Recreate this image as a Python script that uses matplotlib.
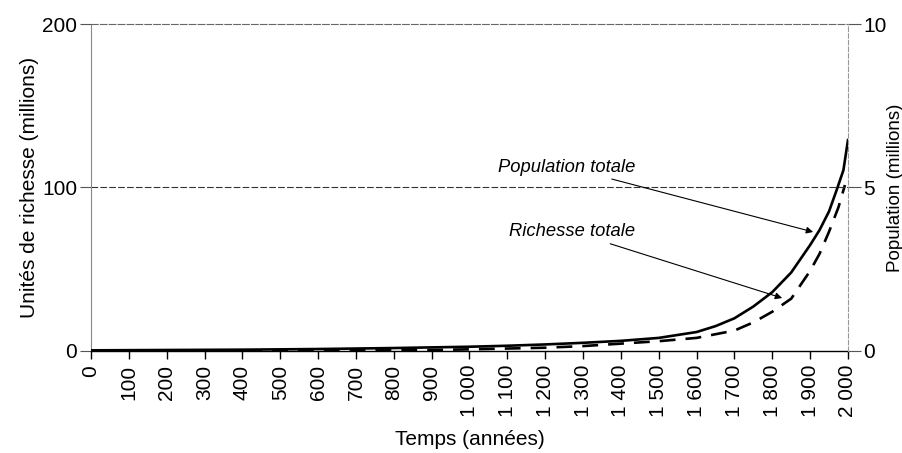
import matplotlib
matplotlib.use("Agg")
from matplotlib import pyplot as plt

plt.rcParams["font.family"] = ["Liberation Sans", "DejaVu Sans"]

# population totale (millions, axe de droite)
pop_years = [0, 200, 400, 600, 800, 1000, 1100, 1200, 1300, 1400, 1500, 1600,
             1650, 1700, 1750, 1800, 1850, 1900, 1925, 1950, 1970, 1988, 2000]
pop_values = [0.02, 0.03, 0.04, 0.06, 0.09, 0.13, 0.16, 0.2, 0.25, 0.31, 0.4,
              0.58, 0.76, 1.0, 1.36, 1.8, 2.4, 3.24, 3.7, 4.27, 4.92, 5.53, 6.45]

# richesse totale (millions d'unites, axe de gauche)
wealth_years = [0, 500, 900, 1000, 1100, 1200, 1300, 1400, 1500, 1600, 1700,
                1750, 1800, 1850, 1900, 1925, 1950, 1975, 1992]
wealth_values = [0, 0.2, 0.6, 1, 1.5, 2, 3, 4.5, 6, 8, 12.5, 17.5, 24, 32,
                 49, 59.5, 73, 88, 101.5]

x_ticks = list(range(0, 2001, 100))
x_labels = ["{:,}".format(t).replace(",", " ") for t in x_ticks]
left_ticks = [0, 100, 200]
right_ticks = [0, 5, 10]

fig = plt.figure(figsize=(9.02, 4.53), dpi=100)
ax = fig.add_axes([0.1009, 0.2252, 0.8392, 0.7218])
ax2 = ax.twinx()

ax.plot(wealth_years, wealth_values, color="black", lw=1.9,
        linestyle=(0, (6, 3.8)))
ax2.plot(pop_years, pop_values, color="black", lw=1.9)

ax.set_xlim(0, 2000)
ax.set_ylim(0, 200)
ax2.set_ylim(0, 10)

ax.axhline(100, color="#333333", lw=0.8, linestyle=(0, (6, 2)))
ax.spines["top"].set_color("#666666")
ax.spines["top"].set_linestyle((0, (6, 2)))
ax.spines["top"].set_linewidth(0.8)
ax2.spines["top"].set_visible(False)
ax.spines["left"].set_color("#888888")
ax.spines["left"].set_linewidth(0.8)
ax2.spines["left"].set_visible(False)
ax2.spines["right"].set_color("#999999")
ax2.spines["right"].set_linestyle((0, (4, 2)))
ax2.spines["right"].set_linewidth(0.8)
ax.spines["right"].set_visible(False)
ax.spines["bottom"].set_color("black")
ax.spines["bottom"].set_linewidth(1.0)
ax2.spines["bottom"].set_visible(False)

ax.set_xticks(x_ticks)
ax.set_xticklabels(x_labels, rotation=90, fontsize=15)
ax.set_yticks(left_ticks)
ax.set_yticklabels([str(t) for t in left_ticks], fontsize=15)
ax2.set_yticks(right_ticks)
ax2.set_yticklabels([str(t) for t in right_ticks], fontsize=15)
ax.tick_params(axis="x", length=6, width=1, pad=4)
ax.tick_params(axis="y", length=8, width=0.8, pad=2, color="#555555")
ax2.tick_params(axis="y", length=9, width=0.8, pad=2, color="#555555")

ax.set_xlabel("Temps (années)", fontsize=15, labelpad=9)
ax.set_ylabel("Unités de richesse (millions)", fontsize=15, labelpad=2)
ax2.set_ylabel("Population (millions)", fontsize=13.5, labelpad=0)

ax.annotate("Population totale", xy=(1908, 72.8), xytext=(1437, 112.5),
            ha="right", va="center", fontsize=13.2, style="italic",
            arrowprops=dict(arrowstyle="-|>", color="black", lw=0.8,
                            mutation_scale=10, shrinkA=2, shrinkB=0))
ax.annotate("Richesse totale", xy=(1826, 32.4), xytext=(1437, 73),
            ha="right", va="center", fontsize=13.2, style="italic",
            arrowprops=dict(arrowstyle="-|>", color="black", lw=0.8,
                            mutation_scale=10, shrinkA=2, shrinkB=0))

fig.savefig("out.png", dpi=100)
